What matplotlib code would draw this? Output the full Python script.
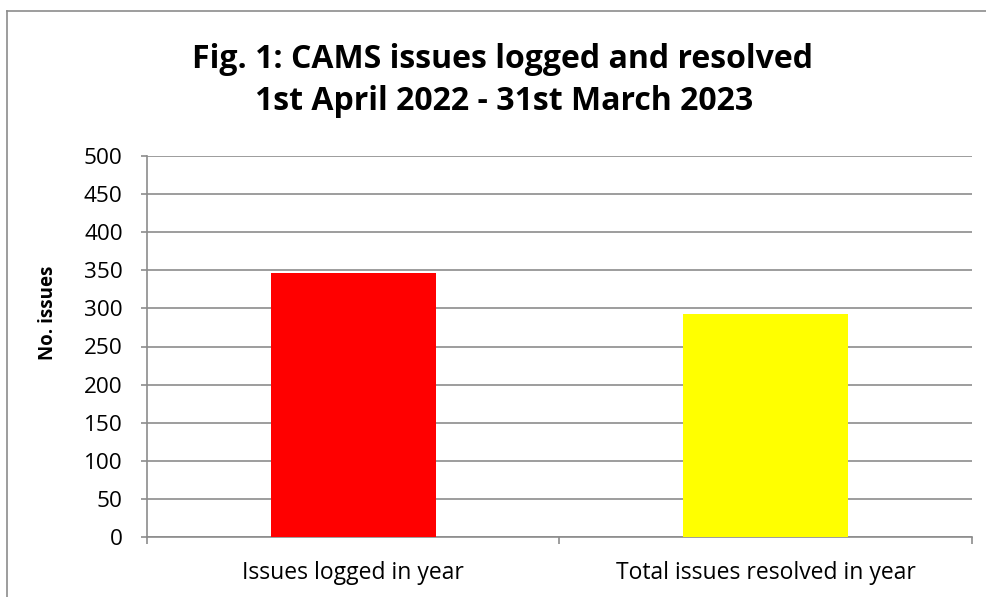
import matplotlib
matplotlib.use("Agg")
import matplotlib.pyplot as plt
from matplotlib.lines import Line2D

categories = ["Issues logged in year", "Total issues resolved in year"]
values = [347, 293]
colors = ["#FF0000", "#FFFF00"]
yticks = [0, 50, 100, 150, 200, 250, 300, 350, 400, 450, 500]

plt.rcParams['font.family'] = ['Open Sans', 'DejaVu Sans']

fig = plt.figure(figsize=(9.87, 5.97), dpi=100)
ax = fig.add_axes([147/987, 1-537/597, (972-147)/987, (537-156)/597])

x = list(range(len(categories)))
ax.bar(x, values, width=0.4, color=colors, zorder=3)

gray = "#8c8c8c"
ax.set_xlim(-0.5, len(categories) - 0.5)
ax.set_ylim(0, 500)
ax.set_yticks(yticks)
ax.set_yticklabels([str(v) for v in yticks], fontsize=16.2)
ax.yaxis.grid(True, color=gray, linewidth=1.2, zorder=0)
ax.set_axisbelow(True)

ax.set_xticks([-0.5, 0.5, 1.5])
ax.set_xticklabels([])
ax.set_xticks(x, minor=True)
ax.set_xticklabels(categories, minor=True, fontsize=16.5)
ax.tick_params(axis='x', which='minor', length=0, pad=17)
ax.tick_params(axis='x', which='major', length=5, color=gray, width=1.2)
ax.tick_params(axis='y', length=4.5, color=gray, width=1.2, pad=13)

for s in ['top', 'right']:
    ax.spines[s].set_visible(False)
for s in ['left', 'bottom']:
    ax.spines[s].set_color(gray)
    ax.spines[s].set_linewidth(1.2)

fig.text(48/987, 1-313/597, "No. issues", rotation=90, ha='center', va='center',
         fontsize=13.5, fontweight='bold')

fig.text(503/987, 1-68/597, "Fig. 1: CAMS issues logged and resolved", ha='center', va='baseline',
         fontsize=23, fontweight='bold')
fig.text(504/987, 1-110/597, "1st April 2022 - 31st March 2023", ha='center', va='baseline',
         fontsize=23, fontweight='bold')

# chart border (left and top edges visible)
fig.add_artist(Line2D([7/987, 7/987], [0, 1-11/597], transform=fig.transFigure, color=gray, linewidth=1.2))
fig.add_artist(Line2D([7/987, 1], [1-11/597, 1-11/597], transform=fig.transFigure, color=gray, linewidth=1.2))

fig.savefig("out.png", dpi=100)
